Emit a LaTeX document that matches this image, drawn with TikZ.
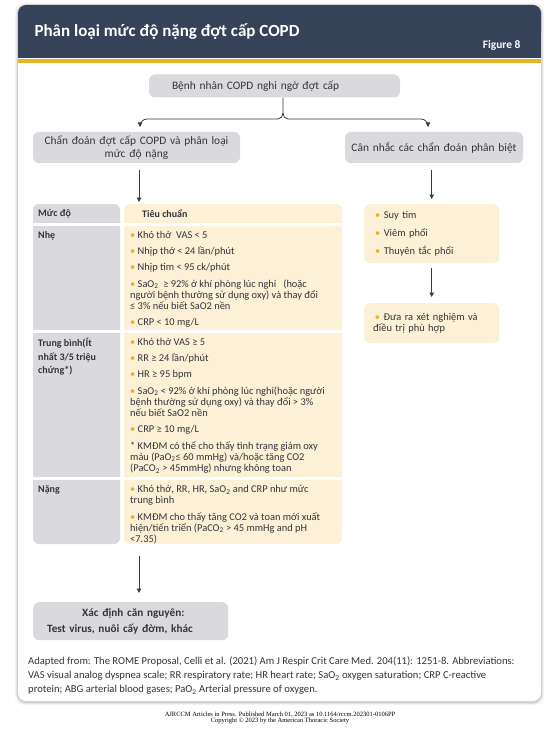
\documentclass[tikz,border=0pt]{standalone}
\usepackage{fontspec}
\setmainfont{Carlito}
\newfontfamily\pressfont{Liberation Serif}
\usetikzlibrary{arrows.meta}
\definecolor{headblue}{RGB}{54,66,88}
\definecolor{gold}{RGB}{233,177,38}
\definecolor{boxgray}{RGB}{217,217,222}
\definecolor{cream}{RGB}{252,241,214}
\definecolor{ink}{RGB}{52,52,58}
\definecolor{arrowc}{RGB}{50,60,76}
\newcommand{\bul}{{\color{gold}\textbullet}~}

\begin{document}
\begin{tikzpicture}[x=1pt,y=-1pt,
    line/.style={draw=arrowc, line width=0.8pt},
    arr/.style={line, -{Triangle[length=4.5pt,width=4.5pt]}},
    flowbox/.style={fill=boxgray, rounded corners=6pt, text=ink, inner sep=0pt, align=center, font=\fontsize{11.4}{13.8}\selectfont},
    listbox/.style={fill=cream, rounded corners=6pt, text=ink, anchor=north west, align=left, font=\fontsize{10.4}{11.6}\selectfont},
    critbox/.style={anchor=north west, inner sep=0pt, text=ink, align=left, font=\fontsize{10.4}{11.3}\selectfont},
    levelbox/.style={anchor=north west, inner sep=0pt, text=ink, align=left, font=\bfseries\fontsize{10}{13.5}\selectfont}]
  \useasboundingbox (0,0) rectangle (559,730);
  \fill[white] (0,0) rectangle (559,730);
  \foreach \s/\o in {3/0.04,2/0.06,1/0.1}
    \fill[black, opacity=\o, rounded corners=9pt] (18-\s,5-\s+1) rectangle (541+\s,701+\s+1);
  \fill[white, rounded corners=8pt] (18,5) rectangle (541,701);
  \fill[headblue, rounded corners=8pt] (18,5) rectangle (541,40);
  \fill[headblue] (18,30) rectangle (541,58);
  \fill[gold] (18,59.5) rectangle (541,63);
  \node[anchor=west, text=white, font=\bfseries\fontsize{17}{20}\selectfont] (title) at (31,32) {Phân loại mức độ nặng đợt cấp COPD};
  \node[anchor=east, text=white, font=\bfseries\fontsize{11.4}{13}\selectfont] (figno) at (524,45) {Figure 8};

  \node[flowbox, text width=205pt, inner xsep=23pt, minimum height=23pt, align=left] (patient) at (274.5,86) {Bệnh nhân COPD nghi ngờ đợt cấp};
  \node[flowbox, text width=207pt, minimum height=31pt] (diag) at (136.5,147.5) {Chẩn đoán đợt cấp COPD và phân loại\\mức độ nặng};
  \node[flowbox, text width=178pt, minimum height=31pt] (diff) at (434,147.5) {Cân nhắc các chẩn đoán phân biệt};

  \coordinate (split) at (283,119);
  \coordinate (bl) at (140,127);
  \coordinate (br) at (428,127);
  \draw[line] (patient.south -| split) -- ([yshift=6pt]split) to[out=-90,in=0] ([xshift=-5pt]split);
  \draw[line] ([yshift=6pt]split) to[out=-90,in=180] ([xshift=5pt]split);
  \draw[arr, rounded corners=7pt] ([xshift=-5pt]split) -| (bl);
  \draw[arr, rounded corners=7pt] ([xshift=5pt]split) -| (br);

  \fill[boxgray, rounded corners=6pt] (33,204) rectangle (120,544);
  \fill[cream, rounded corners=6pt] (124,204) rectangle (342,544);
  \foreach \y in {224.5,331.5,478.5}
    \draw[white, line width=2.5pt] (30,\y) -- (345,\y);

  \node[levelbox] (levelhead) at (38,209) {Mức độ};
  \node[levelbox] (crithead) at (142,209) {Tiêu chuẩn};
  \node[levelbox] (mildlevel) at (38,231) {Nhẹ};
  \node[levelbox] (modlevel) at (38,338) {Trung bình(Ít\\nhất 3/5 triệu\\chứng*)};
  \node[levelbox] (sevlevel) at (38,485) {Nặng};

  \node[critbox] (mildcrit) at (130,231) {\bul Khó thở\ \ VAS < 5\\[4.9pt]
    \bul Nhịp thở < 24 lần/phút\\[4.9pt]
    \bul Nhịp tim < 95 ck/phút\\[4.9pt]
    \bul SaO\textsubscript{2}\ \ ≥ 92\% ở khí phòng lúc nghỉ\ \ \ (hoặc\\
    người bệnh thường sử dụng oxy) và thay đổi\\
    ≤ 3\% nếu biết SaO2 nền\\[4.9pt]
    \bul CRP < 10 mg/L};
  \node[critbox] (modcrit) at (130,338) {\bul Khó thở VAS ≥ 5\\[4.9pt]
    \bul RR ≥ 24 lần/phút\\[4.9pt]
    \bul HR ≥ 95 bpm\\[4.9pt]
    \bul SaO\textsubscript{2} < 92\% ở khí phòng lúc nghỉ(hoặc người\\
    bệnh thường sử dụng oxy) và thay đổi > 3\%\\
    nếu biết SaO2 nền\\[4.9pt]
    \bul CRP ≥ 10 mg/L\\[4.9pt]
    * KMĐM có thể cho thấy tình trạng giảm oxy\\
    máu (PaO\textsubscript{2}≤ 60 mmHg) và/hoặc tăng CO2\\
    (PaCO\textsubscript{2} > 45mmHg) nhưng không toan};
  \node[critbox] (sevcrit) at (130,485) {\bul Khó thở, RR, HR, SaO\textsubscript{2} and CRP như mức\\
    trung bình\\[4.9pt]
    \bul KMĐM cho thấy tăng CO2 và toan mới xuất\\
    hiện/tiến triển (PaCO\textsubscript{2} > 45 mmHg and pH\\
    <7.35)};

  \node[listbox, text width=113pt, inner xsep=11pt, inner ysep=7pt, minimum height=59pt] (causes) at (364,204) {\bul Suy tim\\[6pt]
    \bul Viêm phổi\\[6pt]
    \bul Thuyên tắc phổi};
  \node[listbox, text width=117pt, inner xsep=9pt, inner ysep=7pt, minimum height=40pt] (workup) at (364,303) {\,\bul Đưa ra xét nghiệm và\\
    điều trị phù hợp};

  \node[flowbox, anchor=north west, text width=167pt, inner xsep=14pt, minimum height=38pt, align=left, font=\bfseries\fontsize{11.2}{16}\selectfont] (etiology) at (33,602) {\hspace*{35pt}Xác định căn nguyên:\\Test virus, nuôi cấy đờm, khác};

  \coordinate (tabletop) at (139,202);
  \coordinate (tablebot) at (139,546);
  \draw[arr, shorten <=7pt] (diag.south -| tabletop) -- (tabletop);
  \draw[arr, shorten <=10pt, shorten >=9pt] (tablebot) -- (etiology.north -| tablebot);
  \draw[arr, shorten <=7pt, shorten >=5pt] (diff.south -| causes.north) -- (causes.north);
  \draw[arr, shorten <=5pt, shorten >=6pt] (causes.south) -- (workup.north);

  \node[anchor=north west, inner sep=0pt, text=ink, align=left, font=\fontsize{10.6}{14}\selectfont] (source) at (28,657) {Adapted from: The ROME Proposal, Celli et al. (2021) Am J Respir Crit Care Med. 204(11): 1251-8. Abbreviations:\\
    VAS visual analog dyspnea scale; RR respiratory rate; HR heart rate; SaO\textsubscript{2} oxygen saturation; CRP C-reactive\\
    protein; ABG arterial blood gases; PaO\textsubscript{2} Arterial pressure of oxygen.};
  \node[align=center, inner sep=0pt, font=\pressfont\fontsize{6.5}{6.8}\selectfont] (pressnote) at (280,718) {AJRCCM Articles in Press. Published March 01, 2023 as 10.1164/rccm.202301-0106PP\\
    Copyright © 2023 by the American Thoracic Society};
\end{tikzpicture}
\end{document}
